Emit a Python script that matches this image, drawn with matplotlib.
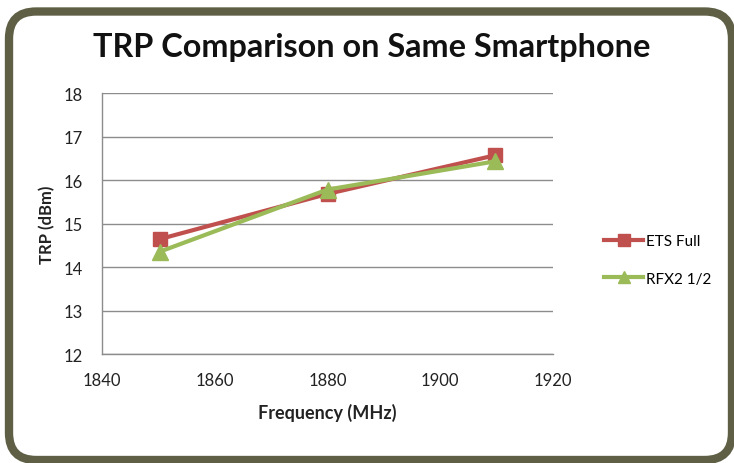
import matplotlib
matplotlib.use("Agg")
import matplotlib.pyplot as plt
from matplotlib.patches import FancyBboxPatch

freq = [1850.2, 1880, 1909.8]
ets_full = [14.64, 15.68, 16.57]
rfx2_half = [14.35, 15.78, 16.43]
series_names = ["ETS Full", "RFX2 1/2"]
xticks = [1840, 1860, 1880, 1900, 1920]
yticks = [12, 13, 14, 15, 16, 17, 18]

plt.rcParams['font.family'] = ['Lato', 'DejaVu Sans']

fig = plt.figure(figsize=(7.34, 4.64), dpi=100)
fig.patch.set_facecolor('white')

# rounded frame
W, H = 734, 464
frame = FancyBboxPatch((9 / W, 3 / H), (723) / W, (448.5) / H,
                       boxstyle="round,pad=0,rounding_size=0.037",
                       transform=fig.transFigure, facecolor='none',
                       edgecolor='#5e5f45', linewidth=6, mutation_aspect=W / H,
                       clip_on=False, zorder=-1)
fig.patches.append(frame)

L, R, T, B = 102, 553, 94, 355
ax = fig.add_axes([L / W, 1 - B / H, (R - L) / W, (B - T) / H])
ax.set_facecolor('none')
red = '#c0504d'
green = '#9bbb59'
l1, = ax.plot(freq, ets_full, color=red, marker='s', markersize=10.5, linewidth=3, label=series_names[0], zorder=3)
l2, = ax.plot(freq, rfx2_half, color=green, marker='^', markersize=11, linewidth=3, label=series_names[1], zorder=4)

ax.set_xlim(1840, 1920)
ax.set_ylim(12, 18)
ax.set_xticks(xticks)
ax.set_yticks(yticks)
ax.yaxis.grid(True, color='#8c8c8c', linewidth=1)
ax.set_axisbelow(True)
for s in ['top', 'right']:
    ax.spines[s].set_visible(False)
for s in ['left', 'bottom']:
    ax.spines[s].set_color('#8c8c8c')
    ax.spines[s].set_linewidth(1)
ax.tick_params(axis='both', length=0, labelcolor='#222222', labelsize=12)
ax.tick_params(axis='y', pad=14)
ax.tick_params(axis='x', pad=13)

ax.set_xlabel("Frequency (MHz)", fontsize=13, fontweight='bold', color='#222222')
ax.set_ylabel("TRP (dBm)", fontsize=12, fontweight='bold', color='#222222')
ax.xaxis.set_label_coords(0.5, -(413 - B) / (B - T), transform=ax.transAxes)
ax.yaxis.set_label_coords(-(102 - 47) / (R - L), 0.5, transform=ax.transAxes)
ax.xaxis.label.set_va('center')
ax.yaxis.label.set_va('center')

fig.text(372 / W, 1 - 48 / H, "TRP Comparison on Same Smartphone", ha='center', va='center',
         fontsize=23.3, fontweight='bold', color='#111111')

fig.legend(handles=[l1, l2], loc='center left', bbox_to_anchor=(590 / W, 1 - 261 / H),
           frameon=False, fontsize=11, handlelength=2.6, labelspacing=1.55,
           handletextpad=0.15, markerscale=0.8)

fig.savefig("out.png", dpi=100)
